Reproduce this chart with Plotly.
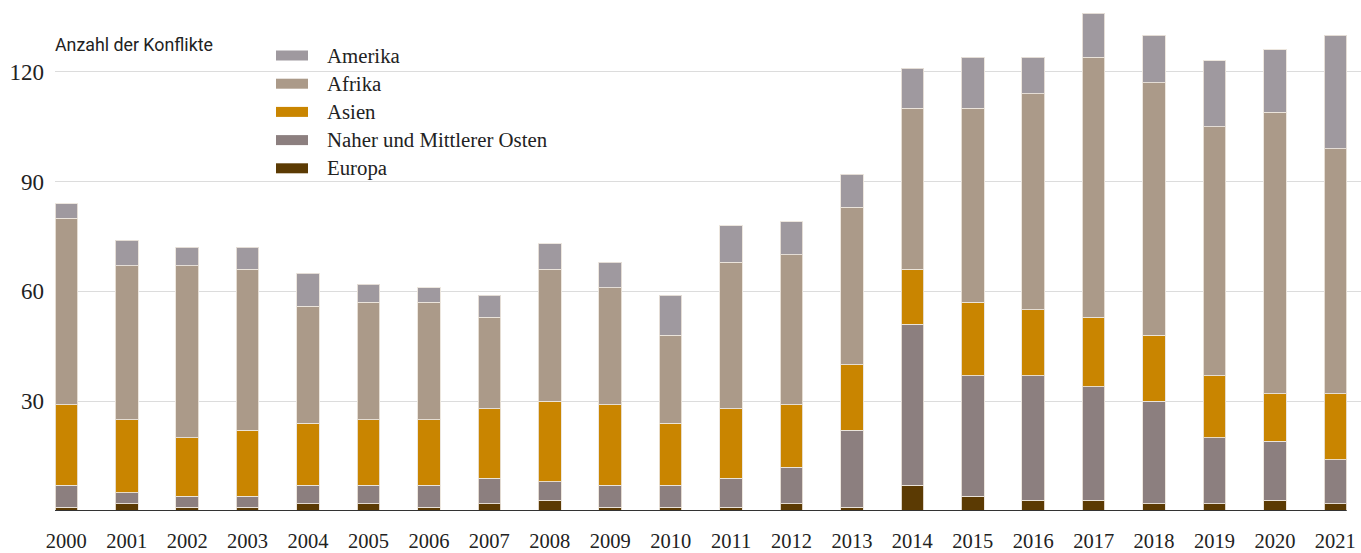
import plotly.graph_objects as go

years = [str(y) for y in range(2000, 2022)]

europa = [1, 2, 1, 1, 2, 2, 1, 2, 3, 1, 1, 1, 2, 1, 7, 4, 3, 3, 2, 2, 3, 2]
naher_osten = [6, 3, 3, 3, 5, 5, 6, 7, 5, 6, 6, 8, 10, 21, 44, 33, 34, 31, 28, 18, 16, 12]
asien = [22, 20, 16, 18, 17, 18, 18, 19, 22, 22, 17, 19, 17, 18, 15, 20, 18, 19, 18, 17, 13, 18]
afrika = [51, 42, 47, 44, 32, 32, 32, 25, 36, 32, 24, 40, 41, 43, 44, 53, 59, 71, 69, 68, 77, 67]
amerika = [4, 7, 5, 6, 9, 5, 4, 6, 7, 7, 11, 10, 9, 9, 11, 14, 10, 12, 13, 18, 17, 31]

series_names = ["Europa", "Naher und Mittlerer Osten", "Asien", "Afrika", "Amerika"]
series_values = [europa, naher_osten, asien, afrika, amerika]
series_colors = ["#5b3a03", "#8c7f7f", "#c98500", "#ab9a89", "#9f999f"]

y_ticks = [30, 60, 90, 120]
y_title = "Anzahl der Konflikte"

W, H = 1361, 553
ML, MR, MT, MB = 55, 0, 0, 42
px_per_cat = 60.43
bar_w = 0.375
x0 = -bar_w / 2
x1 = x0 + (W - ML - MR) / px_per_cat
px_per_unit = 3.66
y_top = (H - MT - MB) / px_per_unit

serif = "Liberation Serif, Times New Roman, serif"

fig = go.Figure()
for name, vals, col in zip(series_names, series_values, series_colors):
    fig.add_trace(go.Bar(
        x=years, y=vals, name=name,
        marker=dict(color=col, line=dict(color="rgba(235,228,220,0.9)", width=1)),
        showlegend=False,
    ))

# baseline under the bars
fig.add_shape(type="line", xref="x", yref="y",
              x0=x0, x1=len(years) - 1 + bar_w / 2, y0=0, y1=0,
              line=dict(color="#333333", width=2), layer="above")

# custom legend (top to bottom: Amerika ... Europa)
plot_w = W - ML - MR
plot_h = H - MT - MB
def px_x(p):
    return (p - ML) / plot_w
def px_y(p):
    return (H - MB - p) / plot_h

legend_order = list(range(len(series_names)))[::-1]
for i, si in enumerate(legend_order):
    cy = 55.5 + i * 28.2
    fig.add_shape(type="rect", xref="paper", yref="paper",
                  x0=px_x(276), x1=px_x(308), y0=px_y(cy + 5), y1=px_y(cy - 5),
                  fillcolor=series_colors[si], line=dict(width=0))
    fig.add_annotation(xref="paper", yref="paper", x=px_x(325), y=px_y(cy - 0.5),
                       text=series_names[si], showarrow=False,
                       xanchor="left", yanchor="middle",
                       font=dict(family=serif, size=20.8, color="#222222"))

fig.add_annotation(xref="paper", yref="paper", x=px_x(53), y=px_y(44.5),
                   text=y_title, showarrow=False, xanchor="left", yanchor="middle",
                   font=dict(family="Roboto, sans-serif", size=17.8, color="#222222"))

fig.update_layout(
    width=W, height=H,
    margin=dict(l=ML, r=MR, t=MT, b=MB, pad=0, autoexpand=False),
    barmode="stack",
    bargap=1 - bar_w,
    plot_bgcolor="white",
    paper_bgcolor="white",
    font=dict(family=serif, color="#222222"),
    xaxis=dict(
        type="category", range=[x0, x1], showgrid=False, showline=False,
        zeroline=False, ticks="", tickfont=dict(family=serif, size=20.5, color="#222222"),
        ticklabelstandoff=15, fixedrange=True, automargin=False,
    ),
    yaxis=dict(
        range=[0, y_top], tickvals=y_ticks, ticktext=[str(v) for v in y_ticks],
        showgrid=True, gridcolor="#dcdcdc", gridwidth=1, zeroline=False,
        showline=False, ticks="", ticklabelstandoff=10, automargin=False,
        tickfont=dict(family=serif, size=23, color="#222222"), fixedrange=True,
    ),
)

fig.write_html("out.html", config={"displayModeBar": False},
               post_script="document.body.style.margin='0';document.body.style.overflow='hidden';")
